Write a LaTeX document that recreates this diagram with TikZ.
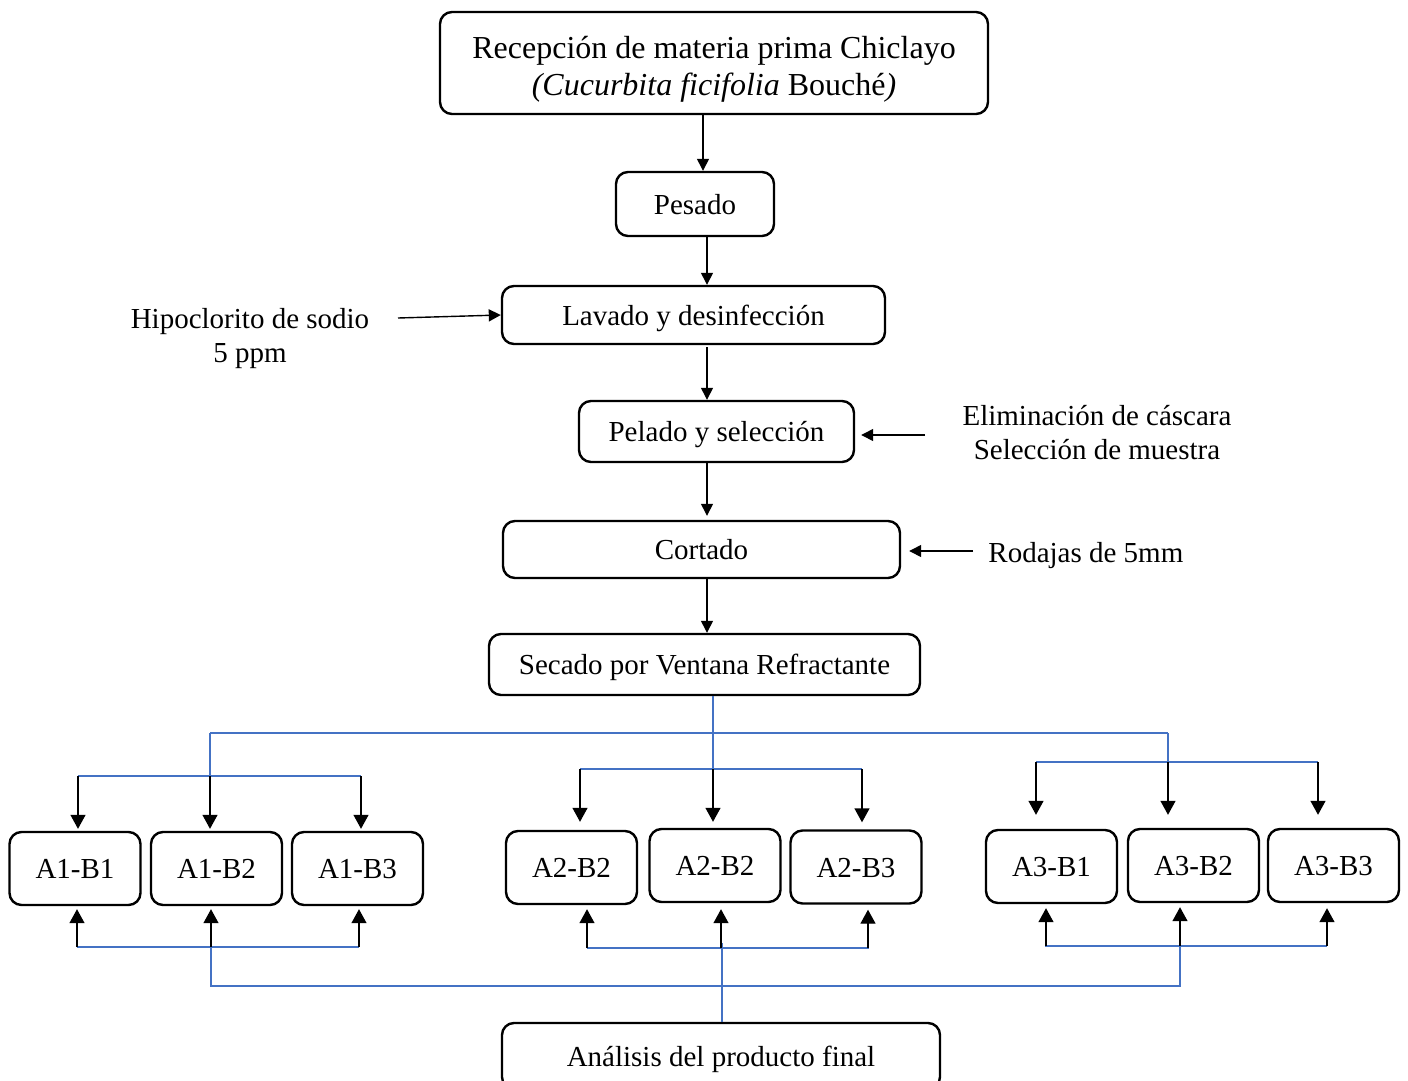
\documentclass[tikz,border=0pt]{standalone}
\usepackage{fontspec}
\setmainfont{Liberation Serif}
\usetikzlibrary{arrows.meta,calc}
\definecolor{lnblue}{HTML}{4472C4}
\begin{document}
\begin{tikzpicture}[x=0.5pt,y=-0.5pt,
 boxbase/.style={draw, line width=1.2pt, rounded corners=6pt, align=center, inner sep=0pt},
 box/.style={boxbase, text height=10pt, text depth=-3.5pt, font=\fontsize{14.5}{18}\selectfont},
 abox/.style={box, minimum width=65.5pt, minimum height=36.5pt},
 arr/.style={line width=0.7pt, -{Triangle[length=6pt,width=6pt]}},
 bigarr/.style={line width=0.7pt, -{Triangle[length=7pt,width=7.5pt]}},
 bline/.style={draw=lnblue, line width=0.8pt},
 lbl/.style={align=center, font=\fontsize{14.5}{17}\selectfont, inner sep=0pt}]
\useasboundingbox (0,0) rectangle (1408,1081);
\clip (0,0) rectangle (1408,1081);

% main flow boxes
\node[boxbase, minimum width=274pt, minimum height=51pt, font=\fontsize{16}{18.5}\selectfont] (top) at (714,63)
 {\rule{0pt}{17pt}Recepción de materia prima Chiclayo\\{\itshape(Cucurbita ficifolia} Bouché{\itshape)}};
\node[box, minimum width=79pt, minimum height=32pt] (pes) at (695,204) {Pesado};
\node[box, minimum width=191.5pt, minimum height=29pt] (lav) at (693.5,315) {Lavado y desinfección};
\node[box, minimum width=137.5pt, minimum height=30.5pt] (pel) at (716.5,431.5) {Pelado y selección};
\node[box, minimum width=198.5pt, minimum height=28.5pt] (cor) at (701.5,549.5) {Cortado};
\node[box, minimum width=215.5pt, minimum height=30.5pt] (sec) at (704.5,664.5) {Secado por Ventana Refractante};
\node[box, minimum width=219pt, minimum height=33pt] (ana) at (721,1056) {Análisis del producto final};

% side labels
\node[lbl] (hipo) at (250,339) {Hipoclorito de sodio\\5 ppm};
\node[lbl] (elim) at (1097,433) {Eliminación de cáscara\\Selección de muestra};
\node[lbl, anchor=west] (rod) at (988,556) {Rodajas de 5mm};

% treatment boxes
\node[abox] (a1b1) at (75,868.5) {A1-B1};
\node[abox] (a1b2) at (216.5,868.5) {A1-B2};
\node[abox] (a1b3) at (357.5,868.5) {A1-B3};
\node[abox] (a2b1) at (571.5,867.5) {A2-B2};
\node[abox] (a2b2) at (715,865.5) {A2-B2};
\node[abox] (a2b3) at (856,867) {A2-B3};
\node[abox] (a3b1) at (1051.5,866.5) {A3-B1};
\node[abox] (a3b2) at (1193.5,865.5) {A3-B2};
\node[abox] (a3b3) at (1333.5,865.5) {A3-B3};

% main flow arrows
\draw[arr] (top.south -| 703,0) -- (pes.north -| 703,0);
\draw[arr] (pes.south -| 707,0) -- (lav.north -| 707,0);
\draw[arr] (lav.south -| 707,0) ++(0,2) -- (pel.north -| 707,0);
\draw[arr] (pel.south -| 707,0) -- ($(cor.north -| 707,0)+(0,-4)$);
\draw[arr] (cor.south -| 707,0) -- (sec.north -| 707,0);
\draw[arr] (398,318) -- (lav.west);
\draw[arr] (elim.west |- 0,435) ++(-37,0) -- ($(pel.east |- 0,435)+(6,0)$);
\draw[arr] (rod.west |- 0,551) ++(-15,0) -- ($(cor.east |- 0,551)+(8,0)$);

% blue distribution lines (top)
\coordinate (c1) at (210,733);
\coordinate (c3) at (1168,733);
\coordinate (g1) at (210,776);
\coordinate (g2) at (713,769);
\coordinate (g3) at (1168,762);
\draw[bline] (sec.south -| 713,0) -- (713,775);
\draw[bline] (c1) -- (c3);
\draw[bline] (c1) -- (g1);
\draw[bline] (c3) -- (g3);
\draw[bline] (78,776) -- (361,776);
\draw[bline] (580,769) -- (862,769);
\draw[bline] (1036,762) -- (1318,762);

% down arrows to treatment boxes
\draw[bigarr] (78,776) -- ($(a1b1.north -| 78,0)+(0,-2)$);
\draw[bigarr] (g1) -- ($(a1b2.north -| 210,0)+(0,-2)$);
\draw[bigarr] (361,776) -- ($(a1b3.north -| 361,0)+(0,-2)$);
\draw[bigarr] (580,769) -- ($(a2b1.north -| 580,0)+(0,-8)$);
\draw[bigarr] (g2) -- ($(a2b2.north -| 713,0)+(0,-6)$);
\draw[bigarr] (862,769) -- ($(a2b3.north -| 862,0)+(0,-7)$);
\draw[bigarr] (1036,762) -- ($(a3b1.north -| 1036,0)+(0,-14)$);
\draw[bigarr] (g3) -- ($(a3b2.north -| 1168,0)+(0,-13)$);
\draw[bigarr] (1318,762) -- ($(a3b3.north -| 1318,0)+(0,-13)$);

% bottom collection lines
\coordinate (h1) at (211,947);
\coordinate (h3) at (1180,946);
\draw[bline] (77,947) -- (359,947);
\draw[bline] (587,948) -- (869,948);
\draw[bline] (1045,946) -- (1327,946);
\draw[bline] (h1) -- (211,986) -- (1180,986) -- (h3);
\draw[bline] (722,943) -- (ana.north -| 722,0);

% up arrows from treatment boxes
\draw[bigarr] (77,947) -- ($(a1b1.south -| 77,0)+(0,3)$);
\draw[bigarr] (h1) -- ($(a1b2.south -| 211,0)+(0,3)$);
\draw[bigarr] (359,947) -- ($(a1b3.south -| 359,0)+(0,3)$);
\draw[bigarr] (587,948) -- ($(a2b1.south -| 587,0)+(0,4)$);
\draw[bigarr] (721,948) -- ($(a2b2.south -| 721,0)+(0,6)$);
\draw[bigarr] (868,948) -- ($(a2b3.south -| 868,0)+(0,5)$);
\draw[bigarr] (1046,946) -- ($(a3b1.south -| 1046,0)+(0,4)$);
\draw[bigarr] (1180,946) -- ($(a3b2.south -| 1180,0)+(0,4)$);
\draw[bigarr] (1327,946) -- ($(a3b3.south -| 1327,0)+(0,5)$);
\end{tikzpicture}
\end{document}
